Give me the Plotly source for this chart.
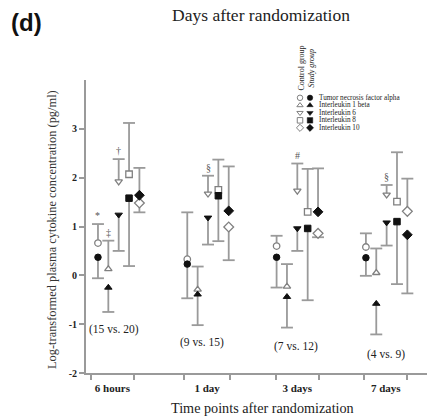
import plotly.graph_objects as go

# ---------------- data ----------------
time_points = ["6 hours", "1 day", "3 days", "7 days"]
cytokines = ["Tumor necrosis factor alpha", "Interleukin 1 beta",
             "Interleukin 6", "Interleukin 8", "Interleukin 10"]
sample_sizes = ["(15 vs. 20)", "(9 vs. 15)", "(7 vs. 12)", "(4 vs. 9)"]

# rows: time points, columns: cytokines (TNF, IL1b, IL6, IL8, IL10)
control_mean = [[0.66, 0.13, 1.92, 2.07, 1.48],
                [0.33, -0.29, 1.67, 1.75, 0.99],
                [0.60, -0.23, 1.73, 1.30, 0.86],
                [0.58, 0.05, 1.65, 1.51, 1.31]]
control_sd = [[0.39, 0.58, 0.46, 1.05, 0.19],
              [0.96, 0.47, 0.37, 0.62, 0.68],
              [0.21, 0.46, 0.56, 0.88, 0.08],
              [0.28, 0.50, 0.20, 1.01, 0.67]]
study_mean = [[0.37, -0.25, 1.24, 1.58, 1.64],
              [0.23, -0.39, 1.18, 1.63, 1.32],
              [0.37, -0.44, 0.96, 0.96, 1.30],
              [0.36, -0.58, 1.08, 1.10, 0.83]]
study_sd = [[0.43, 0.50, 0.74, 1.39, 0.56],
            [0.70, 0.63, 0.55, 0.93, 0.91],
            [0.62, 0.63, 0.46, 1.47, 0.89],
            [0.37, 0.63, 0.47, 1.28, 1.20]]

# significance marks: (time index, cytokine index, symbol)
sig_time = [0, 0, 0, 1, 2, 3]
sig_cyto = [0, 1, 2, 2, 2, 2]
sig_text = ["*", "\u2021", "\u2020", "\u00a7", "#", "\u00a7"]

# sample size label positions (x in group units, y in data units)
n_label_x = [-0.05, 0.93, 1.99, 2.99]
n_label_y = [-1.11, -1.38, -1.45, -1.62]

# x-axis tick marks (group edges) and label positions
tick_edges = [-0.314, 0.175, 0.735, 1.246, 1.761, 2.246, 2.750, 3.232]
label_pos = [-0.07, 0.99, 2.0, 2.99]

y_ticks = [-2, -1, 0, 1, 2, 3]
y_tick_text = ["-2", "-1", "0", "1", "2", "3"]

# ---------------- styling ----------------
symbols = ["circle", "triangle-up", "triangle-down", "square", "diamond"]
sizes = [6.5, 6.5, 6.5, 6.5, 7.5]
offset = 0.116
cap = 0.067
GRAY = "#9a9a9a"
TXT = "#222222"
SERIF = "Liberation Serif"

W, H = 438, 419
ML, MR, MT, MB = 86, 11, 80, 46
PW, PH = W - ML - MR, H - MT - MB


def xpos(g, k):
    return g + (k - 2) * offset


def px_to_paper_x(px):
    return (px - ML) / PW


def px_to_paper_y(py):
    return (H - MB - py) / PH


fig = go.Figure()

# whiskers (one-sided: away from the other group)
wx, wy = [], []
for g in range(len(time_points)):
    for k in range(len(cytokines)):
        for mean, sd, other in ((control_mean[g][k], control_sd[g][k], study_mean[g][k]),
                                (study_mean[g][k], study_sd[g][k], control_mean[g][k])):
            d = 1 if mean >= other else -1
            end = mean + d * sd
            x = xpos(g, k)
            wx += [x, x, None, x - cap, x + cap, None]
            wy += [mean, end, None, end, end, None]
fig.add_trace(go.Scatter(x=wx, y=wy, mode="lines",
                         line=dict(color=GRAY, width=1.8),
                         hoverinfo="skip", showlegend=False))

# markers
for k in range(len(cytokines)):
    xs = [xpos(g, k) for g in range(len(time_points))]
    fig.add_trace(go.Scatter(
        x=xs, y=[control_mean[g][k] for g in range(len(time_points))],
        mode="markers", showlegend=False, name="Control " + cytokines[k],
        marker=dict(symbol=symbols[k], size=sizes[k], color="white",
                    line=dict(color="#808080", width=1.3))))
    fig.add_trace(go.Scatter(
        x=xs, y=[study_mean[g][k] for g in range(len(time_points))],
        mode="markers", showlegend=False, name="Study " + cytokines[k],
        marker=dict(symbol=symbols[k], size=sizes[k], color="#111111",
                    line=dict(color="#111111", width=1))))

annotations = []
# significance marks
for g, k, s in zip(sig_time, sig_cyto, sig_text):
    top = control_mean[g][k] + control_sd[g][k]
    annotations.append(dict(x=xpos(g, k), y=top, xref="x", yref="y", text=s,
                            showarrow=False, yanchor="bottom", yshift=1,
                            font=dict(family=SERIF, size=10, color="#555555")))
# sample sizes
for x, y, t in zip(n_label_x, n_label_y, sample_sizes):
    annotations.append(dict(x=x, y=y, xref="x", yref="y", text=t, showarrow=False,
                            font=dict(family=SERIF, size=11.5, color=TXT)))

# legend (drawn on an overlay axis in pixel units)
leg_rows = [98.3 + 7.5 * i for i in range(len(cytokines))]
for k in range(len(cytokines)):
    fig.add_trace(go.Scatter(x=[300], y=[leg_rows[k]], xaxis="x2", yaxis="y2",
                             mode="markers", showlegend=False, hoverinfo="skip",
                             marker=dict(symbol=symbols[k], size=5.5, color="white",
                                         line=dict(color="#808080", width=1))))
    fig.add_trace(go.Scatter(x=[310], y=[leg_rows[k]], xaxis="x2", yaxis="y2",
                             mode="markers", showlegend=False, hoverinfo="skip",
                             marker=dict(symbol=symbols[k], size=5.5, color="#111111",
                                         line=dict(color="#111111", width=0.5))))
    annotations.append(dict(x=318, y=leg_rows[k], xref="x2", yref="y2",
                            text=cytokines[k], showarrow=False, borderpad=0,
                            xanchor="left", yanchor="middle",
                            font=dict(family=SERIF, size=7.2, color=TXT)))
annotations.append(dict(x=301.5, y=93, xref="x2", yref="y2", text="Control group",
                        textangle=-90, showarrow=False, xanchor="center",
                        yanchor="bottom", font=dict(family=SERIF, size=8, color=TXT)))
annotations.append(dict(x=311.5, y=90, xref="x2", yref="y2", text="<i>Study group</i>",
                        textangle=-90, showarrow=False, xanchor="center",
                        yanchor="bottom", font=dict(family=SERIF, size=8, color=TXT)))

# panel label
annotations.append(dict(x=px_to_paper_x(9), y=px_to_paper_y(7), xref="paper", yref="paper",
                        text="<b>(d)</b>", showarrow=False, xanchor="left",
                        yanchor="top", font=dict(family="Liberation Sans", size=24,
                                                 color="#111111")))
# axis titles
annotations.append(dict(x=px_to_paper_x(52), y=px_to_paper_y(230), xref="paper",
                        yref="paper", textangle=-90, showarrow=False,
                        xanchor="center", yanchor="middle",
                        text="Log-transformed plasma cytokine concentration (pg/ml)",
                        font=dict(family=SERIF, size=12.4, color="#333333")))
annotations.append(dict(x=px_to_paper_x(262), y=px_to_paper_y(408), xref="paper",
                        yref="paper", showarrow=False,
                        xanchor="center", yanchor="middle",
                        text="Time points after randomization",
                        font=dict(family=SERIF, size=14.2, color=TXT)))

fig.update_layout(
    width=W, height=H,
    margin=dict(l=ML, r=MR, t=MT, b=MB),
    paper_bgcolor="white", plot_bgcolor="white",
    title=dict(text="Days after randomization", x=261 / W, xanchor="center",
               y=1 - 15 / H, yanchor="middle",
               font=dict(family=SERIF, size=17.5, color=TXT)),
    xaxis=dict(range=[-0.366, 3.452], showgrid=False, zeroline=False,
               showline=True, linecolor=GRAY, linewidth=2,
               tickmode="array", tickvals=label_pos, ticktext=time_points,
               ticks="", ticklabelstandoff=4,
               tickfont=dict(family=SERIF, size=11, color=TXT, weight="bold"),
               minor=dict(tickmode="array", tickvals=tick_edges, ticks="outside",
                          ticklen=5, tickwidth=1.5, tickcolor=GRAY, showgrid=False)),
    yaxis=dict(range=[-2, 4], showgrid=False, zeroline=False,
               showline=True, linecolor=GRAY, linewidth=2,
               tickmode="array", tickvals=y_ticks, ticktext=y_tick_text,
               ticks="outside", ticklen=5, tickwidth=1.5, tickcolor=GRAY,
               tickfont=dict(family=SERIF, size=10, color=TXT, weight="bold")),
    xaxis2=dict(range=[86, 427], overlaying="x", anchor="y2", visible=False),
    yaxis2=dict(range=[373.3, 80.5], overlaying="y", anchor="x2", visible=False),
    annotations=annotations,
)

fig.write_html("out.html")
